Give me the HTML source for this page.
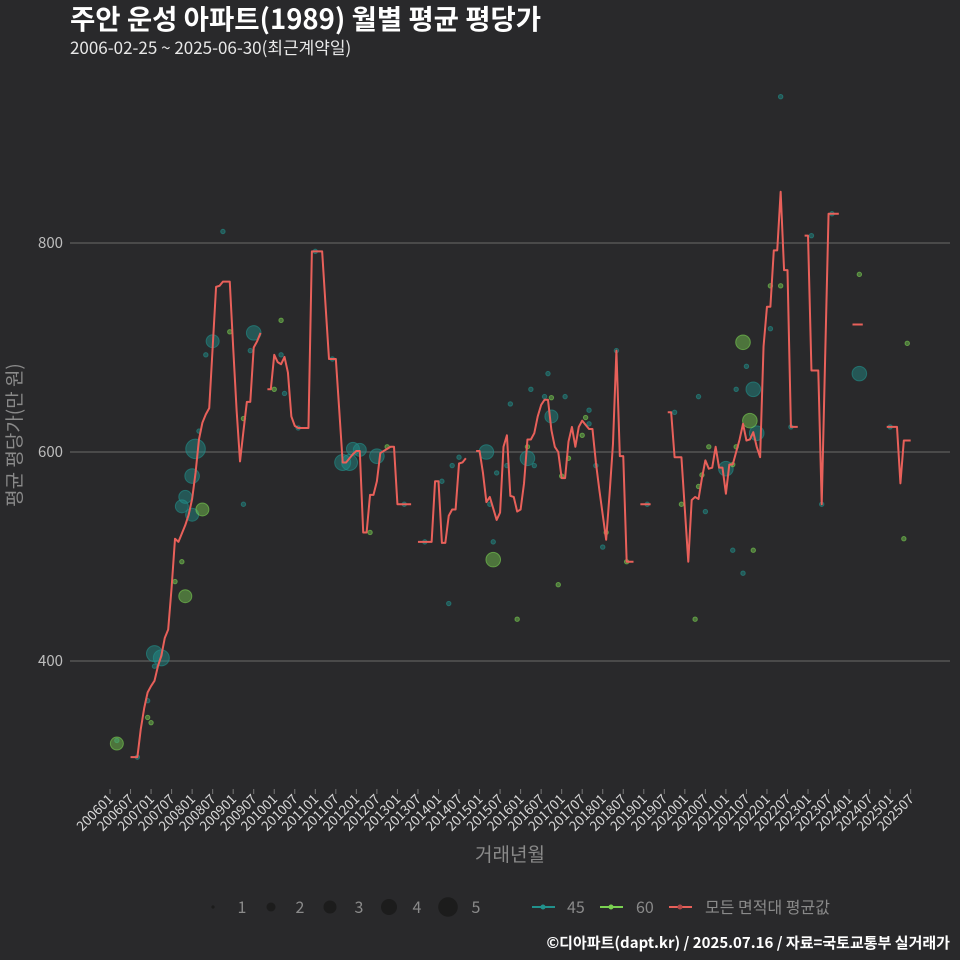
<!DOCTYPE html>
<html><head><meta charset="utf-8"><style>
html,body{margin:0;padding:0;background:#29292b;}
svg{display:block;font-family:"Noto Sans CJK KR","Liberation Sans",sans-serif;}
</style></head><body>
<svg id="chart" width="960" height="960" viewBox="0 0 960 960">
<rect x="0" y="0" width="960" height="960" fill="#29292b"/>
<text x="70" y="29" fill="#ffffff" font-size="27.5" font-weight="bold">주안 운성 아파트(1989) 월별 평균 평당가</text>
<text x="70" y="54" fill="#e8e8e8" font-size="17">2006-02-25 ~ 2025-06-30(최근계약일)</text>
<g id="grid"></g>
<g id="yticks"></g>
<g id="xticks"></g>
<g id="points"></g>
<g id="line"></g>
<text x="0" y="0" transform="translate(21,435) rotate(-90)" text-anchor="middle" fill="#8a8a8a" font-size="19">평균 평당가(만 원)</text>
<text x="510" y="861" text-anchor="middle" fill="#8a8a8a" font-size="19">거래년월</text>
<g>
<circle cx="213" cy="907" r="1.6" fill="#1c1c1c"/>
<text x="242" y="913" fill="#8a8a8a" font-size="16" text-anchor="middle">1</text>
<circle cx="271" cy="907" r="4.5" fill="#1c1c1c"/>
<text x="300" y="913" fill="#8a8a8a" font-size="16" text-anchor="middle">2</text>
<circle cx="330" cy="907" r="6.5" fill="#1c1c1c"/>
<text x="359" y="913" fill="#8a8a8a" font-size="16" text-anchor="middle">3</text>
<circle cx="389" cy="907" r="8" fill="#1c1c1c"/>
<text x="417" y="913" fill="#8a8a8a" font-size="16" text-anchor="middle">4</text>
<circle cx="448" cy="907" r="9.8" fill="#1c1c1c"/>
<text x="476" y="913" fill="#8a8a8a" font-size="16" text-anchor="middle">5</text>
<line x1="532" y1="907" x2="555" y2="907" stroke="#21918c" stroke-width="2"/>
<circle cx="543" cy="907" r="2.5" fill="#21918c"/>
<text x="567" y="913" fill="#8a8a8a" font-size="16">45</text>
<line x1="600" y1="907" x2="623" y2="907" stroke="#7ad151" stroke-width="2"/>
<circle cx="611" cy="907" r="2.5" fill="#7ad151"/>
<text x="636" y="913" fill="#8a8a8a" font-size="16">60</text>
<line x1="669" y1="907" x2="692" y2="907" stroke="#e8605a" stroke-width="2"/>
<circle cx="680" cy="907" r="2.5" fill="#b04848"/>
<text x="705" y="913" fill="#8a8a8a" font-size="16">모든 면적대 평균값</text>
</g>
<text x="950" y="948" text-anchor="end" fill="#ffffff" font-size="15" font-weight="bold">©디아파트(dapt.kr) / 2025.07.16 / 자료=국토교통부 실거래가</text>
</svg>
<script>
const yTicks = [400, 600, 800];
const xTickLabels = [];
for (let y = 2006; y <= 2025; y++) { xTickLabels.push(y + "01"); xTickLabels.push(y + "07"); }
// monthly average values starting 2006-01 (index 0); null = no data
const avgValues = [null,null,null,null,null,null,308,308,308,335,355,370,376,381,395,405,422,430,470,517,514,522,530,540,555,580,612,628,636,642,700,758,759,763,763,763,700,640,591,620,648,648,700,706,714,null,660,660,693,686,684,691,676,634,625,623,623,623,623,792,792,792,792,740,689,689,689,640,590,590,594,598,601,601,523,523,559,559,572,599,601,603,605,605,550,550,550,550,550,null,514,514,514,514,514,572,572,513,513,539,545,545,589,590,594,null,null,601,601,580,552,557,546,535,542,605,616,558,557,543,545,570,612,612,618,634,645,650,650,621,605,600,575,575,610,624,605,624,630,626,622,622,590,564,540,516,560,608,697,596,596,495,495,495,null,550,550,550,550,null,null,null,null,638,638,595,595,595,545,495,554,557,555,575,592,584,585,605,585,585,560,588,588,600,612,627,611,612,619,605,595,701,739,739,793,793,849,774,774,624,624,624,null,807,807,678,678,678,550,690,828,828,828,828,null,null,null,722,722,722,722,null,null,null,null,null,null,624,624,624,624,570,611,611,611];
// scatter: month index, value, size
const p45Month = [2,8,11,13,15,13,21,24,22,24,25,26,28,30,33,39,41,42,50,51,55,60,65,70,68,71,73,78,86,92,97,99,100,102,110,111,113,112,116,117,122,124,123,127,128,129,133,140,140,142,144,148,157,165,172,174,180,182,183,185,186,188,189,193,196,199,205,208,211,219,228];
const p45Value = [324,308,362,407,403,395,548,540,557,577,603,620,693,706,811,550,697,714,693,656,623,792,689,590,590,603,602,596,550,514,572,455,587,595,600,550,580,514,587,646,594,587,660,653,675,634,653,640,627,587,509,697,550,638,653,543,584,506,660,484,682,660,618,718,940,624,807,550,828,675,624];
const p45Size = [1,1,1,4,4,1,3,3,3,3.5,5,1,1,3,1,1,1,3.5,1,1,1,1,1,4,4,3,3,3.5,1,1,1,1,1,1,3.5,1,1,1,1,1,3.5,1,1,1,1,3,1,1,1,1,1,1,1,1,1,1,3.5,1,1,1,1,3.5,3.5,1,1,1,1,1,1,3.5,1];
const p60Month = [2,11,12,19,21,22,27,35,39,48,50,76,81,112,119,122,129,131,132,134,138,139,145,151,167,171,172,173,175,182,183,185,187,188,193,196,219,232,233];
const p60Value = [321,346,341,476,495,462,545,715,632,660,726,523,605,497,440,605,652,473,577,594,616,633,523,495,550,440,567,578,605,588,605,705,630,506,759,759,770,517,704];
const p60Size = [3,1,1,1,1,3,3,1,1,1,1,1,1,3.5,1,1,1,1,1,1,1,1,1,1,1,1,1,1,1,1,1,3.5,3.5,1,1,1,1,1,1];

const NS = "http://www.w3.org/2000/svg";
function xScale(i) { return 110 + i * 3.4217; }
function yScale(v) { return 452 - (v - 600) * 1.045; }
function rScale(s) { return [0, 2.2, 4.5, 6.5, 8, 9.8][Math.floor(s)] + (s % 1) * 1.6; }
function mk(tag, attrs, parent) { const e = document.createElementNS(NS, tag); for (const k in attrs) e.setAttribute(k, attrs[k]); parent.appendChild(e); return e; }

const grid = document.getElementById('grid');
const yt = document.getElementById('yticks');
yTicks.forEach(v => {
  const l = mk('line', {x1: 70, x2: 950, y1: yScale(v), y2: yScale(v), stroke: '#5e5e5e', 'stroke-width': 1.2}, grid);
  
  
  const t = mk('text', {x: 63, y: yScale(v) + 5, 'text-anchor': 'end', fill: '#bdbdbd', 'font-size': 15}, yt);
  t.textContent = v;
  
  
});
const xt = document.getElementById('xticks');
xTickLabels.forEach((lab, k) => {
  const x = xScale(k * 6);
  const tk = mk('line', {x1: x, x2: x, y1: 789, y2: 794, stroke: '#777', 'stroke-width': 1}, xt);
  
  
  const t = mk('text', {x: 0, y: 0, transform: 'translate(' + (x + 4) + ',800) rotate(-45)', 'text-anchor': 'end', fill: '#d8d8d8', 'font-size': 13.5}, xt);
  t.textContent = lab;
  
  
});

const pts = document.getElementById('points');
function drawPts(ms, vs, ss, col, name) {
  ms.forEach((m, k) => {
    const c = mk('circle', {cx: xScale(m), cy: yScale(vs[k]), r: rScale(ss[k]), fill: col, 'fill-opacity': 0.45, stroke: col, 'stroke-opacity': 0.6, 'stroke-width': 1}, pts);
    
    
  });
}
drawPts(p45Month, p45Value, p45Size, '#21918c', 'point-45');
drawPts(p60Month, p60Value, p60Size, '#7ad151', 'point-60');

const lg = document.getElementById('line');
let seg = [];
function flush() {
  if (seg.length) {
    let d = seg.length === 1 ? 'M' + (seg[0][0] - 1.5) + ',' + seg[0][1] + 'L' + (seg[0][0] + 1.5) + ',' + seg[0][1] : 'M' + seg.map(p => p.join(',')).join('L');
    const p = mk('path', {d: d, fill: 'none', stroke: '#e8605a', 'stroke-width': 2, 'stroke-linejoin': 'round'}, lg);
    
    
  }
  seg = [];
}
avgValues.forEach((v, i) => { if (v === null) flush(); else seg.push([xScale(i), yScale(v)]); });
flush();
</script>
</body></html>
